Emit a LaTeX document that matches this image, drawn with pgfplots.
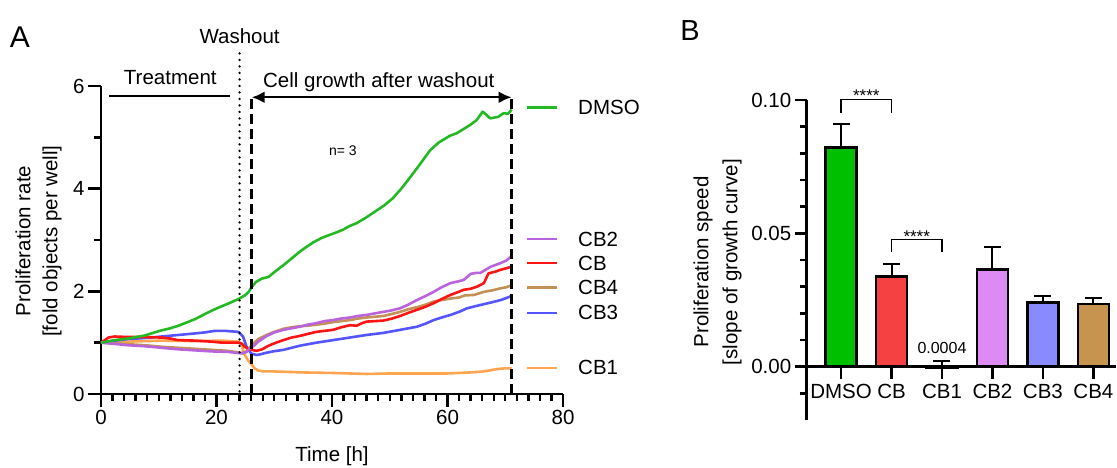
\documentclass[border=0pt]{standalone}
\usepackage{pgfplots}
\pgfplotsset{compat=1.18}
\usepackage{fontspec}
\setmainfont{Liberation Sans}
\usetikzlibrary{arrows.meta}

\definecolor{lDMSO}{RGB}{35,185,35}
\definecolor{lCB}{RGB}{255,20,20}
\definecolor{lCBone}{RGB}{255,165,80}
\definecolor{lCBtwo}{RGB}{185,100,220}
\definecolor{lCBthree}{RGB}{85,85,255}
\definecolor{lCBfour}{RGB}{195,145,85}
\definecolor{bDMSO}{RGB}{0,190,0}
\definecolor{bCB}{RGB}{245,65,65}
\definecolor{bCBtwo}{RGB}{222,138,245}
\definecolor{bCBthree}{RGB}{138,138,255}
\definecolor{bCBfour}{RGB}{198,148,78}

\newcommand{\fs}{\fontsize{20.5}{24}\selectfont}
\pgfplotsset{eb/.style={error bars/.cd, y dir=plus, y explicit,
    error bar style={line width=2pt, black},
    error mark options={rotate=90, mark size=8.5pt, line width=2pt, black}}}

% growth curves, panel A
\pgfplotstableread{
t v
0 1.00
1 1.02
2.4 1.05
4.7 1.08
7.6 1.14
9 1.19
10.5 1.24
12 1.28
13.4 1.33
15 1.40
16.3 1.46
17.7 1.54
19.1 1.62
20.5 1.69
22.0 1.76
23 1.81
23.8 1.85
24.9 1.92
25.5 1.98
26.1 2.08
26.8 2.18
27.9 2.25
29 2.28
30.3 2.40
31.6 2.51
33 2.64
34.4 2.77
35.5 2.86
36.7 2.95
38.2 3.04
39.6 3.10
40.8 3.15
41.9 3.20
43 3.27
44.3 3.33
45.8 3.43
47.4 3.55
49 3.67
50.5 3.81
52 4.00
53.6 4.23
55.2 4.47
57.0 4.75
58.5 4.90
60.4 5.03
61.6 5.08
62.9 5.17
63.9 5.24
65 5.33
66.1 5.50
67.4 5.37
68.8 5.40
69.7 5.47
70.5 5.46
71.1 5.54
}\dmso

\pgfplotstableread{
t v
0 1.00
2 0.98
4.7 0.95
7.6 0.93
10.5 0.90
13.4 0.87
16.3 0.85
19.1 0.83
22 0.82
24.4 0.79
25.2 0.82
25.8 0.89
26.5 0.94
27.2 1.02
28.7 1.13
30 1.20
31.6 1.25
33 1.28
34.4 1.31
35.8 1.35
37.3 1.38
38.7 1.42
40.2 1.44
41.6 1.47
43.1 1.49
44.5 1.52
46.0 1.54
47.4 1.57
48.9 1.60
50.4 1.63
51.8 1.67
53.2 1.74
54.7 1.83
56.2 1.91
57.6 1.99
59 2.08
60.5 2.16
61.7 2.19
62.8 2.22
64.0 2.34
65.0 2.36
65.7 2.36
66.6 2.42
67.5 2.48
69.2 2.55
70.2 2.60
71.1 2.69
}\cbtwo

\pgfplotstableread{
t v
0 1.00
0.7 1.05
1.3 1.10
2.4 1.12
4.7 1.11
7 1.11
10.5 1.10
12 1.08
13.3 1.05
16.3 1.04
19.1 1.02
21 1.00
23.8 1.00
24.4 0.98
24.9 0.92
25.5 0.88
26.1 0.86
26.9 0.84
27.9 0.87
29 0.94
30.3 1.00
31.6 1.05
33 1.10
34.4 1.13
35.8 1.17
37.3 1.21
38.7 1.23
40.2 1.25
41.6 1.30
43.1 1.34
44.3 1.33
45.2 1.38
46.0 1.41
48.9 1.43
50.4 1.47
51.8 1.52
53.2 1.58
54.7 1.64
56.2 1.70
57.6 1.77
59 1.85
60.5 1.93
61.7 1.98
62.8 2.03
64 2.05
65.1 2.09
66.3 2.16
67.1 2.35
68.2 2.38
69.2 2.42
70.2 2.45
71.1 2.48
}\cb

\pgfplotstableread{
t v
0 1.00
2 0.99
4.7 0.97
7.6 0.95
10.5 0.92
13.4 0.90
16.3 0.88
19.1 0.86
22 0.84
24.4 0.80
25.2 0.83
26.1 0.95
27.2 1.07
28.7 1.15
30 1.21
31.6 1.27
33 1.30
34.4 1.32
35.8 1.33
37.3 1.35
38.7 1.37
40.2 1.40
41.6 1.42
43.1 1.44
44.5 1.47
46.0 1.49
48.9 1.52
50.4 1.56
51.8 1.60
53.2 1.65
54.7 1.69
56.2 1.74
57.6 1.80
59 1.83
60.5 1.86
62 1.88
63 1.92
64.6 1.93
66.3 1.99
67.8 2.02
69.2 2.06
70.2 2.08
71.1 2.12
}\cbfour

\pgfplotstableread{
t v
0 1.00
2.4 1.04
4.7 1.07
7.6 1.09
10.5 1.12
13.4 1.15
16.3 1.18
18 1.20
19.7 1.23
21.5 1.23
23.8 1.21
24.6 1.12
25.2 0.92
26 0.79
26.9 0.76
27.5 0.77
28.5 0.80
29.8 0.83
31.6 0.86
34.4 0.94
37.3 1.00
40.2 1.05
43.1 1.10
46.0 1.15
48.9 1.19
51.8 1.25
54.7 1.31
56.2 1.37
57.6 1.44
59 1.49
60.5 1.54
62 1.60
63.4 1.67
64.8 1.71
66.3 1.75
67.8 1.79
69.2 1.83
70.2 1.87
71.1 1.91
}\cbthree

\pgfplotstableread{
t v
0 1.00
2.4 1.01
4.7 1.02
10.5 1.04
16.3 1.03
21 1.04
23.8 1.02
24.3 0.98
24.7 0.80
25.5 0.65
26.1 0.57
26.6 0.50
27.2 0.46
28 0.44
29.8 0.44
35 0.42
40 0.41
46.0 0.39
50 0.40
55 0.40
60 0.40
64 0.42
66.3 0.44
67.8 0.47
69 0.49
70 0.50
71.1 0.50
}\cbone

\begin{document}
\begin{tikzpicture}[font=\fs]
\useasboundingbox (0,0) rectangle (1117pt,468pt);

% ---------- panel A ----------
\node at (20pt,431pt) {\fontsize{30}{32}\selectfont A};
\begin{axis}[
    at={(101pt,74pt)}, anchor=south west,
    scale only axis, width=462pt, height=308pt,
    xmin=0, xmax=80, ymin=0, ymax=6,
    axis x line*=bottom, axis y line*=left,
    axis line style={line width=2.6pt,-},
    xtick={0,20,40,60,80}, minor x tick num=9,
    ytick={0,2,4,6}, minor y tick num=1,
    tick align=outside, major tick length=13pt, minor tick length=7pt,
    tick style={line width=2.4pt, black},
    /pgf/number format/assume math mode=true,
    ticklabel style={font=\fs},
    clip=false, no markers,
    every axis plot/.append style={line width=2.6pt, line join=round},
]
\addplot[lCBone] table[x=t,y=v] {\cbone};
\addplot[lCBthree] table[x=t,y=v] {\cbthree};
\addplot[lCBfour] table[x=t,y=v] {\cbfour};
\addplot[lCB] table[x=t,y=v] {\cb};
\addplot[lCBtwo] table[x=t,y=v] {\cbtwo};
\addplot[lDMSO] table[x=t,y=v] {\dmso};

\draw[line width=2.6pt, line cap=round, dash pattern=on 0pt off 6.5pt] (axis cs:24,0.05) -- (axis cs:24,6.72);
\draw[line width=2.6pt, dash pattern=on 10pt off 5pt] (axis cs:26.1,0) -- (axis cs:26.1,5.78);
\draw[line width=2.6pt, dash pattern=on 10pt off 5pt] (axis cs:71.1,0) -- (axis cs:71.1,5.78);
\draw[line width=2.4pt] (axis cs:1.4,5.8) -- (axis cs:22.4,5.8);
\draw[line width=2.4pt, {Latex[length=13pt,width=12pt]}-{Latex[length=13pt,width=12pt]}]
    (axis cs:26.1,5.78) -- (axis cs:71.1,5.78);
\node at (axis cs:12,6.16) {Treatment};
\node at (axis cs:48.1,6.08) {Cell growth after washout};
\node at (axis cs:24,6.98) {Washout};
\node[font=\fontsize{14}{16}\selectfont] at (axis cs:41.9,4.74) {n= 3};

% legend keys next to the curve ends
\draw[lDMSO, line width=2.6pt] (axis cs:73.8,5.58) -- (axis cs:79.0,5.58);
\node[anchor=west, inner sep=0pt] at (axis cs:82.6,5.58) {DMSO};
\draw[lCBtwo, line width=2.6pt] (axis cs:73.8,3.02) -- (axis cs:79.0,3.02);
\node[anchor=west, inner sep=0pt] at (axis cs:82.6,3.02) {CB2};
\draw[lCB, line width=2.6pt] (axis cs:73.8,2.55) -- (axis cs:79.0,2.55);
\node[anchor=west, inner sep=0pt] at (axis cs:82.6,2.55) {CB};
\draw[lCBfour, line width=2.6pt] (axis cs:73.8,2.07) -- (axis cs:79.0,2.07);
\node[anchor=west, inner sep=0pt] at (axis cs:82.6,2.07) {CB4};
\draw[lCBthree, line width=2.6pt] (axis cs:73.8,1.58) -- (axis cs:79.0,1.58);
\node[anchor=west, inner sep=0pt] at (axis cs:82.6,1.58) {CB3};
\draw[lCBone, line width=2.6pt] (axis cs:73.8,0.51) -- (axis cs:79.0,0.51);
\node[anchor=west, inner sep=0pt] at (axis cs:82.6,0.51) {CB1};
\end{axis}
\node[rotate=90, align=center, font=\fontsize{20.5}{27}\selectfont] at (38.5pt,227pt)
    {Proliferation rate\\{[fold objects per well]}};
\node at (332pt,11.3pt) {Time [h]};

% ---------- panel B ----------
\node at (690pt,437.5pt) {\fontsize{29}{32}\selectfont B};
\begin{axis}[
    at={(806.7pt,48pt)}, anchor=south west,
    scale only axis, width=309.4pt, height=320pt,
    xmin=-0.68, xmax=5.45, ymin=-0.02, ymax=0.10,
    axis x line=middle, axis y line=left,
    axis line style={line width=2.6pt,-},
    xtick={0,1,2,3,4,5}, xticklabels={DMSO,CB,CB1,CB2,CB3,CB4},
    ytick={0,0.05,0.1},
    minor ytick={-0.01,0.01,0.02,0.03,0.04,0.06,0.07,0.08,0.09},
    tick align=outside, major tick length=12pt, minor tick length=7pt,
    tick style={line width=2.4pt, black},
    yticklabel style={/pgf/number format/.cd, fixed, fixed zerofill, precision=2},
    /pgf/number format/assume math mode=true,
    ticklabel style={font=\fs},
    xticklabel style={yshift=-2pt},
    scaled y ticks=false,
    ybar, bar width=31pt, clip=false,
    every axis plot/.append style={draw=black, line width=2.6pt, bar shift=0pt},
]
\addplot[fill=bDMSO, eb] coordinates {(0,0.0821) +- (0,0.0088)};
\addplot[fill=bCB, eb] coordinates {(1,0.0338) +- (0,0.0047)};
\addplot[fill=white, eb] coordinates {(2,-0.0004) +- (0,0.0026)};
\addplot[fill=bCBtwo, eb] coordinates {(3,0.0365) +- (0,0.0085)};
\addplot[fill=bCBthree, eb] coordinates {(4,0.0241) +- (0,0.0024)};
\addplot[fill=bCBfour, eb] coordinates {(5,0.0235) +- (0,0.0021)};

\draw[line width=1.3pt] (axis cs:0,0.0953) |- (axis cs:1,0.1003) -- (axis cs:1,0.0953);
\draw[line width=1.3pt] (axis cs:1,0.0431) |- (axis cs:2,0.0478) -- (axis cs:2,0.0431);
\node[anchor=base, font=\fontsize{17}{18}\selectfont] at (axis cs:0.5,0.0996) {****};
\node[anchor=base, font=\fontsize{17}{18}\selectfont] at (axis cs:1.5,0.0465) {****};
\node[font=\fontsize{16}{18}\selectfont] at (axis cs:2,0.0069) {0.0004};
\end{axis}
\node[rotate=90, align=center, font=\fontsize{20.5}{29}\selectfont] at (717.5pt,206pt)
    {Proliferation speed\\{[slope of growth curve]}};
\end{tikzpicture}
\end{document}
